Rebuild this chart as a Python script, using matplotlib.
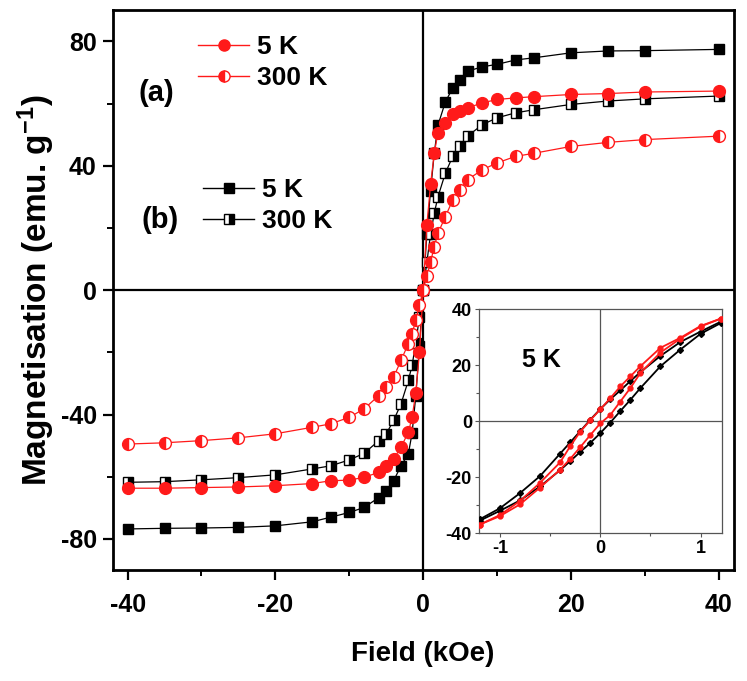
import matplotlib
matplotlib.use('Agg')
import matplotlib.pyplot as plt
from matplotlib.lines import Line2D
from matplotlib.ticker import MultipleLocator

plt.rcParams['font.family'] = ['Liberation Sans', 'DejaVu Sans']
plt.rcParams['font.weight'] = 'bold'
plt.rcParams['axes.unicode_minus'] = False
plt.rcParams['mathtext.fontset'] = 'custom'
plt.rcParams['mathtext.bf'] = 'Liberation Sans:bold'
plt.rcParams['mathtext.rm'] = 'Liberation Sans:bold'
plt.rcParams['mathtext.default'] = 'bf'

# ---------------- main plot data (field in kOe, M in emu/g) ----------------
field = [-40, -35, -30, -25, -20, -15, -12.5, -10, -8, -6, -5, -4, -3, -2, -1.5, -1, -0.5,
         0, 0.5, 1, 1.5, 2, 3, 4, 5, 6, 8, 10, 12.5, 15, 20, 25, 30, 40]

m_b_5K = [-76.8, -76.6, -76.5, -76.3, -75.8, -74.5, -73.0, -71.5, -69.9, -66.7, -64.5, -61.3,
          -56.5, -52.6, -46.0, -34.0, -18.0,
          0.0, 18.0, 32.0, 44.0, 53.0, 60.5, 65.0, 67.7, 70.4, 71.8, 72.6, 74.0, 74.7, 76.3, 76.9, 77.0, 77.4]
m_b_300K = [-61.8, -61.6, -61.0, -60.3, -59.4, -57.5, -56.5, -54.6, -52.5, -48.4, -46.2, -41.9,
            -36.6, -29.0, -24.2, -17.0, -8.5,
            0.0, 9.0, 18.0, 24.7, 30.0, 37.6, 43.0, 46.2, 49.5, 53.2, 55.4, 57.0, 58.0, 59.7, 60.8, 61.5, 62.4]
m_r_5K = [-63.7, -63.7, -63.5, -63.3, -62.9, -62.2, -61.3, -61.1, -60.2, -58.6, -56.5, -54.3,
          -50.5, -45.7, -40.9, -33.0, -20.0,
          0.0, 21.0, 34.0, 44.0, 50.6, 53.8, 56.5, 57.5, 58.6, 60.2, 61.3, 61.8, 62.2, 62.9, 63.2, 63.7, 64.0]
m_r_300K = [-49.5, -49.1, -48.4, -47.5, -46.2, -44.1, -43.0, -40.9, -38.2, -33.9, -31.2, -28.0,
            -22.6, -17.2, -14.0, -9.7, -4.8,
            0.0, 4.5, 9.0, 14.0, 18.3, 23.6, 29.0, 32.2, 35.5, 38.7, 40.9, 43.0, 44.0, 46.2, 47.5, 48.4, 49.5]

# ---------------- inset data (5 K loops, kOe) ----------------
h_down = [1.2, 1.0, 0.8, 0.6, 0.4, 0.3, 0.2, 0.1, 0.0, -0.1, -0.2, -0.3, -0.4, -0.6, -0.8, -1.0, -1.2]
h_up = [-1.2, -1.0, -0.8, -0.6, -0.4, -0.3, -0.2, -0.1, 0.0, 0.1, 0.2, 0.3, 0.4, 0.6, 0.8, 1.0, 1.2]

in_b_down = [35.5, 32.0, 28.3, 23.3, 17.5, 14.3, 11.0, 7.8, 4.3, 0.5, -3.6, -7.6, -11.6, -19.6, -25.7, -31.1, -35.0]
in_b_up = [-35.5, -32.0, -28.3, -23.3, -17.5, -14.3, -11.0, -7.8, -4.3, -0.5, 3.6, 7.6, 11.8, 19.6, 25.6, 31.2, 35.0]
in_r_down = [36.6, 34.0, 29.8, 26.2, 19.6, 16.0, 12.4, 8.2, 4.2, 0.3, -3.8, -9.0, -14.7, -22.0, -28.5, -33.5, -36.9]
in_r_up = [-36.9, -33.9, -29.7, -23.7, -17.3, -13.5, -9.3, -5.0, -0.8, 2.2, 7.0, 11.8, 17.2, 24.5, 29.5, 33.8, 36.6]

labels_a = ['5 K', '300 K']
labels_b = ['5 K', '300 K']

RED = '#ff1a1a'

fig = plt.figure(figsize=(7.47, 6.81), dpi=100)
ax = fig.add_axes([0.151, 0.163, 0.831, 0.822])

ax.axhline(0, color='k', lw=1.6, zorder=1)
ax.axvline(0, color='k', lw=1.6, zorder=1)

ax.plot(field, m_b_5K, color='k', lw=0.9, marker='s', ms=7.5, mfc='k', mec='k', zorder=3)
ax.plot(field, m_b_300K, color='k', lw=0.9, marker='s', ms=7.5, mfc='k', mfcalt='white',
        fillstyle='right', mec='k', mew=1.0, zorder=3)
ax.plot(field, m_r_5K, color=RED, lw=0.9, marker='o', ms=8.5, mfc=RED, mec=RED, zorder=4)
ax.plot(field, m_r_300K, color=RED, lw=0.9, marker='o', ms=8.5, mfc=RED, mfcalt='white',
        fillstyle='left', mec=RED, mew=1.0, zorder=5)

ax.set_xlim(-42, 42)
ax.set_ylim(-90, 90)
ax.xaxis.set_major_locator(MultipleLocator(20))
ax.xaxis.set_minor_locator(MultipleLocator(10))
ax.yaxis.set_major_locator(MultipleLocator(40))
ax.yaxis.set_minor_locator(MultipleLocator(20))
ax.tick_params(which='major', direction='out', length=7.5, width=1.6, labelsize=18)
ax.tick_params(axis='x', which='major', pad=9)
ax.tick_params(axis='y', which='major', pad=4)
ax.tick_params(which='minor', direction='out', length=4.5, width=1.4)
for s in ax.spines.values():
    s.set_linewidth(2.0)
for lab in ax.get_xticklabels() + ax.get_yticklabels():
    lab.set_fontweight('bold')

ax.set_xlabel('Field (kOe)', fontsize=20, fontweight='bold', labelpad=17)
ax.set_ylabel(r'Magnetisation (emu. g$^{-1}$)', fontsize=24, fontweight='bold', labelpad=3)

# legends
h_a = [Line2D([], [], color=RED, lw=1.0, marker='o', ms=8, mfc=RED, mec=RED),
       Line2D([], [], color=RED, lw=1.0, marker='o', ms=8, mfc=RED, mfcalt='white',
              fillstyle='left', mec=RED)]
h_b = [Line2D([], [], color='k', lw=1.0, marker='s', ms=7, mfc='k', mec='k'),
       Line2D([], [], color='k', lw=1.0, marker='s', ms=7, mfc='k', mfcalt='white',
              fillstyle='right', mec='k')]
leg1 = ax.legend(h_a, labels_a, loc='upper left', bbox_to_anchor=(0.137, 0.955), frameon=False,
                 prop={'size': 19, 'weight': 'bold'}, handlelength=1.95, handletextpad=0.3,
                 borderpad=0, borderaxespad=0, labelspacing=0.25)
ax.add_artist(leg1)
leg2 = ax.legend(h_b, labels_b, loc='upper left', bbox_to_anchor=(0.145, 0.70), frameon=False,
                 prop={'size': 19, 'weight': 'bold'}, handlelength=1.95, handletextpad=0.3,
                 borderpad=0, borderaxespad=0, labelspacing=0.25)
ax.text(0.071, 0.853, '(a)', transform=ax.transAxes, fontsize=21, fontweight='bold',
        ha='center', va='center')
ax.text(0.076, 0.625, '(b)', transform=ax.transAxes, fontsize=21, fontweight='bold',
        ha='center', va='center')

# inset
axin = fig.add_axes([0.641, 0.217, 0.325, 0.329])
axin.axhline(0, color='#555555', lw=0.9, zorder=1)
axin.axvline(0, color='#555555', lw=0.9, zorder=1)
axin.plot(h_down, in_b_down, color='k', lw=1.3, marker='D', ms=3, mfc='k', mec='k', zorder=3)
axin.plot(h_up, in_b_up, color='k', lw=1.3, marker='D', ms=3, mfc='k', mec='k', zorder=3)
axin.plot(h_down, in_r_down, color=RED, lw=1.3, marker='o', ms=3.5, mfc=RED, mec=RED, zorder=4)
axin.plot(h_up, in_r_up, color=RED, lw=1.3, marker='o', ms=3.5, mfc=RED, mec=RED, zorder=4)
axin.set_xlim(-1.21, 1.21)
axin.set_ylim(-40, 40)
axin.xaxis.set_major_locator(MultipleLocator(1))
axin.xaxis.set_minor_locator(MultipleLocator(0.5))
axin.yaxis.set_major_locator(MultipleLocator(20))
axin.yaxis.set_minor_locator(MultipleLocator(10))
axin.tick_params(which='major', direction='out', length=3, width=0.8, labelsize=13, pad=2,
                 color='#555555')
axin.tick_params(which='minor', direction='out', length=2, width=0.8, color='#555555')
for s in axin.spines.values():
    s.set_linewidth(0.9)
    s.set_color('#555555')
for lab in axin.get_xticklabels() + axin.get_yticklabels():
    lab.set_fontweight('bold')
axin.text(0.258, 0.772, '5 K', transform=axin.transAxes, fontsize=18, fontweight='bold',
          ha='center', va='center')

fig.savefig('out.png', dpi=100)
